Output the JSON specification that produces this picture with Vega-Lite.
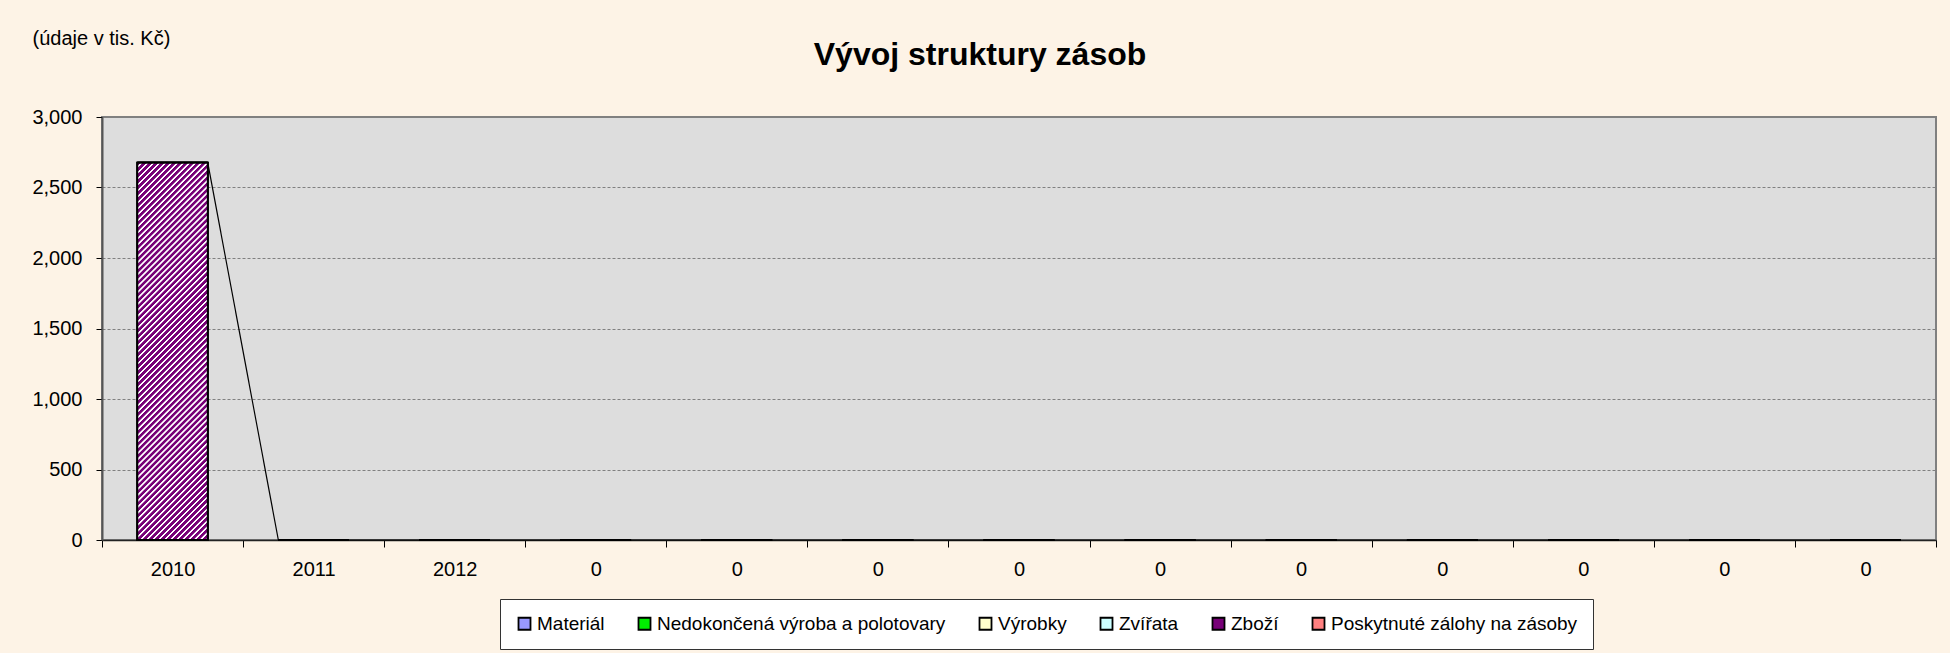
{
  "$schema": "https://vega.github.io/schema/vega-lite/v6.json",
  "width": 1834,
  "height": 423,
  "autosize": {"type": "none"},
  "padding": {"left": 102, "top": 117, "right": 14, "bottom": 113},
  "background": "#FDF3E6",
  "title": {
    "text": "Vývoj struktury zásob",
    "fontSize": 32,
    "fontWeight": "bold",
    "font": "Liberation Sans",
    "color": "black",
    "anchor": "middle",
    "baseline": "alphabetic",
    "dx": -39,
    "offset": -69
  },
  "config": {
    "font": "Liberation Sans",
    "view": {"fill": "#DDDDDD", "stroke": "#808080", "strokeWidth": 2}
  },
  "data": {
    "values": [
      {"rok": "2010", "polozka": "Materiál", "hodnota": 0},
      {"rok": "2010", "polozka": "Nedokončená výroba a polotovary", "hodnota": 0},
      {"rok": "2010", "polozka": "Výrobky", "hodnota": 0},
      {"rok": "2010", "polozka": "Zvířata", "hodnota": 0},
      {"rok": "2010", "polozka": "Zboží", "hodnota": 2675},
      {"rok": "2010", "polozka": "Poskytnuté zálohy na zásoby", "hodnota": 0},
      {"rok": "2011", "polozka": "Materiál", "hodnota": 0},
      {"rok": "2011", "polozka": "Nedokončená výroba a polotovary", "hodnota": 0},
      {"rok": "2011", "polozka": "Výrobky", "hodnota": 0},
      {"rok": "2011", "polozka": "Zvířata", "hodnota": 0},
      {"rok": "2011", "polozka": "Zboží", "hodnota": 0},
      {"rok": "2011", "polozka": "Poskytnuté zálohy na zásoby", "hodnota": 0},
      {"rok": "2012", "polozka": "Materiál", "hodnota": 0},
      {"rok": "2012", "polozka": "Nedokončená výroba a polotovary", "hodnota": 0},
      {"rok": "2012", "polozka": "Výrobky", "hodnota": 0},
      {"rok": "2012", "polozka": "Zvířata", "hodnota": 0},
      {"rok": "2012", "polozka": "Zboží", "hodnota": 0},
      {"rok": "2012", "polozka": "Poskytnuté zálohy na zásoby", "hodnota": 0},
      {"rok": "0#4", "polozka": "Materiál", "hodnota": 0},
      {"rok": "0#4", "polozka": "Nedokončená výroba a polotovary", "hodnota": 0},
      {"rok": "0#4", "polozka": "Výrobky", "hodnota": 0},
      {"rok": "0#4", "polozka": "Zvířata", "hodnota": 0},
      {"rok": "0#4", "polozka": "Zboží", "hodnota": 0},
      {"rok": "0#4", "polozka": "Poskytnuté zálohy na zásoby", "hodnota": 0},
      {"rok": "0#5", "polozka": "Materiál", "hodnota": 0},
      {"rok": "0#5", "polozka": "Nedokončená výroba a polotovary", "hodnota": 0},
      {"rok": "0#5", "polozka": "Výrobky", "hodnota": 0},
      {"rok": "0#5", "polozka": "Zvířata", "hodnota": 0},
      {"rok": "0#5", "polozka": "Zboží", "hodnota": 0},
      {"rok": "0#5", "polozka": "Poskytnuté zálohy na zásoby", "hodnota": 0},
      {"rok": "0#6", "polozka": "Materiál", "hodnota": 0},
      {"rok": "0#6", "polozka": "Nedokončená výroba a polotovary", "hodnota": 0},
      {"rok": "0#6", "polozka": "Výrobky", "hodnota": 0},
      {"rok": "0#6", "polozka": "Zvířata", "hodnota": 0},
      {"rok": "0#6", "polozka": "Zboží", "hodnota": 0},
      {"rok": "0#6", "polozka": "Poskytnuté zálohy na zásoby", "hodnota": 0},
      {"rok": "0#7", "polozka": "Materiál", "hodnota": 0},
      {"rok": "0#7", "polozka": "Nedokončená výroba a polotovary", "hodnota": 0},
      {"rok": "0#7", "polozka": "Výrobky", "hodnota": 0},
      {"rok": "0#7", "polozka": "Zvířata", "hodnota": 0},
      {"rok": "0#7", "polozka": "Zboží", "hodnota": 0},
      {"rok": "0#7", "polozka": "Poskytnuté zálohy na zásoby", "hodnota": 0},
      {"rok": "0#8", "polozka": "Materiál", "hodnota": 0},
      {"rok": "0#8", "polozka": "Nedokončená výroba a polotovary", "hodnota": 0},
      {"rok": "0#8", "polozka": "Výrobky", "hodnota": 0},
      {"rok": "0#8", "polozka": "Zvířata", "hodnota": 0},
      {"rok": "0#8", "polozka": "Zboží", "hodnota": 0},
      {"rok": "0#8", "polozka": "Poskytnuté zálohy na zásoby", "hodnota": 0},
      {"rok": "0#9", "polozka": "Materiál", "hodnota": 0},
      {"rok": "0#9", "polozka": "Nedokončená výroba a polotovary", "hodnota": 0},
      {"rok": "0#9", "polozka": "Výrobky", "hodnota": 0},
      {"rok": "0#9", "polozka": "Zvířata", "hodnota": 0},
      {"rok": "0#9", "polozka": "Zboží", "hodnota": 0},
      {"rok": "0#9", "polozka": "Poskytnuté zálohy na zásoby", "hodnota": 0},
      {"rok": "0#10", "polozka": "Materiál", "hodnota": 0},
      {"rok": "0#10", "polozka": "Nedokončená výroba a polotovary", "hodnota": 0},
      {"rok": "0#10", "polozka": "Výrobky", "hodnota": 0},
      {"rok": "0#10", "polozka": "Zvířata", "hodnota": 0},
      {"rok": "0#10", "polozka": "Zboží", "hodnota": 0},
      {"rok": "0#10", "polozka": "Poskytnuté zálohy na zásoby", "hodnota": 0},
      {"rok": "0#11", "polozka": "Materiál", "hodnota": 0},
      {"rok": "0#11", "polozka": "Nedokončená výroba a polotovary", "hodnota": 0},
      {"rok": "0#11", "polozka": "Výrobky", "hodnota": 0},
      {"rok": "0#11", "polozka": "Zvířata", "hodnota": 0},
      {"rok": "0#11", "polozka": "Zboží", "hodnota": 0},
      {"rok": "0#11", "polozka": "Poskytnuté zálohy na zásoby", "hodnota": 0},
      {"rok": "0#12", "polozka": "Materiál", "hodnota": 0},
      {"rok": "0#12", "polozka": "Nedokončená výroba a polotovary", "hodnota": 0},
      {"rok": "0#12", "polozka": "Výrobky", "hodnota": 0},
      {"rok": "0#12", "polozka": "Zvířata", "hodnota": 0},
      {"rok": "0#12", "polozka": "Zboží", "hodnota": 0},
      {"rok": "0#12", "polozka": "Poskytnuté zálohy na zásoby", "hodnota": 0},
      {"rok": "0#13", "polozka": "Materiál", "hodnota": 0},
      {"rok": "0#13", "polozka": "Nedokončená výroba a polotovary", "hodnota": 0},
      {"rok": "0#13", "polozka": "Výrobky", "hodnota": 0},
      {"rok": "0#13", "polozka": "Zvířata", "hodnota": 0},
      {"rok": "0#13", "polozka": "Zboží", "hodnota": 0},
      {"rok": "0#13", "polozka": "Poskytnuté zálohy na zásoby", "hodnota": 0}
    ]
  },
  "encoding": {
    "x": {
      "field": "rok",
      "type": "nominal",
      "sort": null,
      "scale": {
        "domain": ["2010", "2011", "2012", "0#4", "0#5", "0#6", "0#7", "0#8", "0#9", "0#10", "0#11", "0#12", "0#13"],
        "paddingInner": 0,
        "paddingOuter": 0
      },
      "axis": {
        "title": null,
        "labelExpr": "split(datum.label, '#')[0]",
        "labelAngle": 0,
        "labelFontSize": 20,
        "labelColor": "black",
        "labelPadding": 12,
        "tickBand": "extent",
        "tickSize": 7,
        "tickColor": "black",
        "domainColor": "#222222",
        "domainWidth": 1.5,
        "grid": false
      }
    }
  },
  "layer": [
    {
      "mark": {"type": "bar", "stroke": "black", "strokeWidth": 2, "width": {"band": 0.5}},
      "encoding": {
        "y": {
          "field": "hodnota",
          "type": "quantitative",
          "aggregate": "sum",
          "stack": "zero",
          "scale": {"domain": [0, 3000], "nice": false},
          "axis": {
            "title": "(údaje v tis. Kč)",
            "titleAngle": 0,
            "titleAlign": "left",
            "titleBaseline": "alphabetic",
            "titleX": -70,
            "titleY": -73,
            "titleFontSize": 20,
            "titleFontWeight": "normal",
            "titleColor": "black",
            "values": [0, 500, 1000, 1500, 2000, 2500, 3000],
            "format": ",d",
            "labelFontSize": 20,
            "labelColor": "black",
            "labelPadding": 14,
            "tickSize": 6,
            "tickColor": "black",
            "domainColor": "#555555",
            "domainWidth": 2,
            "grid": true,
            "gridColor": "#808080",
            "gridDash": [3, 2],
            "gridWidth": 1
          }
        },
        "color": {
          "field": "polozka",
          "type": "nominal",
          "scale": {
            "domain": ["Materiál", "Nedokončená výroba a polotovary", "Výrobky", "Zvířata", "Zboží", "Poskytnuté zálohy na zásoby"],
            "range": ["#9999FF", "#00EE00", "#FFFFCC", "#CCFFFF", "#770077", "#FF8080"]
          },
          "legend": {
            "title": null,
            "orient": "none",
            "legendX": 398,
            "legendY": 482,
            "direction": "horizontal",
            "fillColor": "white",
            "strokeColor": "#333333",
            "padding": 15,
            "symbolType": "square",
            "symbolSize": 144,
            "symbolStrokeColor": "black",
            "symbolStrokeWidth": 1.5,
            "symbolOpacity": 1,
            "labelFontSize": 19,
            "labelColor": "black",
            "labelOffset": 3,
            "labelLimit": 500,
            "columnPadding": 29,
            "encode": {
              "symbols": {
                "update": {
                  "stroke": {"value": "black"},
                  "strokeWidth": {"value": 1.8},
                  "fill": [
                    {
                      "test": "datum.value === 'Zboží'",
                      "value": {
                        "gradient": "linear",
                        "x1": 0, "y1": 0, "x2": 1, "y2": 1,
                        "stops": [
                          {"offset": 0, "color": "#770077"},
                          {"offset": 0.4, "color": "#770077"},
                          {"offset": 0.5, "color": "#F0D8F0"},
                          {"offset": 0.6, "color": "#770077"},
                          {"offset": 1, "color": "#770077"}
                        ]
                      }
                    },
                    {"scale": "color", "field": "value"}
                  ]
                }
              }
            }
          }
        }
      }
    },
    {
      "transform": [{"filter": "datum.polozka == 'Zboží' && datum.hodnota > 0"}],
      "mark": {
        "type": "bar",
        "stroke": "black",
        "strokeWidth": 2,
        "width": {"band": 0.5},
        "fill": {
          "gradient": "linear",
          "x1": 0, "y1": 0, "x2": 0.2145, "y2": 1.1468,
          "stops": [
            {"offset": 0.0000, "color": "#770077"}, {"offset": 0.0067, "color": "#770077"}, {"offset": 0.0083, "color": "white"}, {"offset": 0.0117, "color": "white"},
            {"offset": 0.0133, "color": "#770077"}, {"offset": 0.0200, "color": "#770077"}, {"offset": 0.0216, "color": "white"}, {"offset": 0.0251, "color": "white"},
            {"offset": 0.0267, "color": "#770077"}, {"offset": 0.0333, "color": "#770077"}, {"offset": 0.0349, "color": "white"}, {"offset": 0.0384, "color": "white"},
            {"offset": 0.0400, "color": "#770077"}, {"offset": 0.0467, "color": "#770077"}, {"offset": 0.0483, "color": "white"}, {"offset": 0.0517, "color": "white"},
            {"offset": 0.0533, "color": "#770077"}, {"offset": 0.0600, "color": "#770077"}, {"offset": 0.0616, "color": "white"}, {"offset": 0.0651, "color": "white"},
            {"offset": 0.0667, "color": "#770077"}, {"offset": 0.0733, "color": "#770077"}, {"offset": 0.0749, "color": "white"}, {"offset": 0.0784, "color": "white"},
            {"offset": 0.0800, "color": "#770077"}, {"offset": 0.0867, "color": "#770077"}, {"offset": 0.0883, "color": "white"}, {"offset": 0.0917, "color": "white"},
            {"offset": 0.0933, "color": "#770077"}, {"offset": 0.1000, "color": "#770077"}, {"offset": 0.1016, "color": "white"}, {"offset": 0.1051, "color": "white"},
            {"offset": 0.1067, "color": "#770077"}, {"offset": 0.1133, "color": "#770077"}, {"offset": 0.1149, "color": "white"}, {"offset": 0.1184, "color": "white"},
            {"offset": 0.1200, "color": "#770077"}, {"offset": 0.1267, "color": "#770077"}, {"offset": 0.1283, "color": "white"}, {"offset": 0.1317, "color": "white"},
            {"offset": 0.1333, "color": "#770077"}, {"offset": 0.1400, "color": "#770077"}, {"offset": 0.1416, "color": "white"}, {"offset": 0.1451, "color": "white"},
            {"offset": 0.1467, "color": "#770077"}, {"offset": 0.1533, "color": "#770077"}, {"offset": 0.1549, "color": "white"}, {"offset": 0.1584, "color": "white"},
            {"offset": 0.1600, "color": "#770077"}, {"offset": 0.1667, "color": "#770077"}, {"offset": 0.1683, "color": "white"}, {"offset": 0.1717, "color": "white"},
            {"offset": 0.1733, "color": "#770077"}, {"offset": 0.1800, "color": "#770077"}, {"offset": 0.1816, "color": "white"}, {"offset": 0.1851, "color": "white"},
            {"offset": 0.1867, "color": "#770077"}, {"offset": 0.1933, "color": "#770077"}, {"offset": 0.1949, "color": "white"}, {"offset": 0.1984, "color": "white"},
            {"offset": 0.2000, "color": "#770077"}, {"offset": 0.2067, "color": "#770077"}, {"offset": 0.2083, "color": "white"}, {"offset": 0.2117, "color": "white"},
            {"offset": 0.2133, "color": "#770077"}, {"offset": 0.2200, "color": "#770077"}, {"offset": 0.2216, "color": "white"}, {"offset": 0.2251, "color": "white"},
            {"offset": 0.2267, "color": "#770077"}, {"offset": 0.2333, "color": "#770077"}, {"offset": 0.2349, "color": "white"}, {"offset": 0.2384, "color": "white"},
            {"offset": 0.2400, "color": "#770077"}, {"offset": 0.2467, "color": "#770077"}, {"offset": 0.2483, "color": "white"}, {"offset": 0.2517, "color": "white"},
            {"offset": 0.2533, "color": "#770077"}, {"offset": 0.2600, "color": "#770077"}, {"offset": 0.2616, "color": "white"}, {"offset": 0.2651, "color": "white"},
            {"offset": 0.2667, "color": "#770077"}, {"offset": 0.2733, "color": "#770077"}, {"offset": 0.2749, "color": "white"}, {"offset": 0.2784, "color": "white"},
            {"offset": 0.2800, "color": "#770077"}, {"offset": 0.2867, "color": "#770077"}, {"offset": 0.2883, "color": "white"}, {"offset": 0.2917, "color": "white"},
            {"offset": 0.2933, "color": "#770077"}, {"offset": 0.3000, "color": "#770077"}, {"offset": 0.3016, "color": "white"}, {"offset": 0.3051, "color": "white"},
            {"offset": 0.3067, "color": "#770077"}, {"offset": 0.3133, "color": "#770077"}, {"offset": 0.3149, "color": "white"}, {"offset": 0.3184, "color": "white"},
            {"offset": 0.3200, "color": "#770077"}, {"offset": 0.3267, "color": "#770077"}, {"offset": 0.3283, "color": "white"}, {"offset": 0.3317, "color": "white"},
            {"offset": 0.3333, "color": "#770077"}, {"offset": 0.3400, "color": "#770077"}, {"offset": 0.3416, "color": "white"}, {"offset": 0.3451, "color": "white"},
            {"offset": 0.3467, "color": "#770077"}, {"offset": 0.3533, "color": "#770077"}, {"offset": 0.3549, "color": "white"}, {"offset": 0.3584, "color": "white"},
            {"offset": 0.3600, "color": "#770077"}, {"offset": 0.3667, "color": "#770077"}, {"offset": 0.3683, "color": "white"}, {"offset": 0.3717, "color": "white"},
            {"offset": 0.3733, "color": "#770077"}, {"offset": 0.3800, "color": "#770077"}, {"offset": 0.3816, "color": "white"}, {"offset": 0.3851, "color": "white"},
            {"offset": 0.3867, "color": "#770077"}, {"offset": 0.3933, "color": "#770077"}, {"offset": 0.3949, "color": "white"}, {"offset": 0.3984, "color": "white"},
            {"offset": 0.4000, "color": "#770077"}, {"offset": 0.4067, "color": "#770077"}, {"offset": 0.4083, "color": "white"}, {"offset": 0.4117, "color": "white"},
            {"offset": 0.4133, "color": "#770077"}, {"offset": 0.4200, "color": "#770077"}, {"offset": 0.4216, "color": "white"}, {"offset": 0.4251, "color": "white"},
            {"offset": 0.4267, "color": "#770077"}, {"offset": 0.4333, "color": "#770077"}, {"offset": 0.4349, "color": "white"}, {"offset": 0.4384, "color": "white"},
            {"offset": 0.4400, "color": "#770077"}, {"offset": 0.4467, "color": "#770077"}, {"offset": 0.4483, "color": "white"}, {"offset": 0.4517, "color": "white"},
            {"offset": 0.4533, "color": "#770077"}, {"offset": 0.4600, "color": "#770077"}, {"offset": 0.4616, "color": "white"}, {"offset": 0.4651, "color": "white"},
            {"offset": 0.4667, "color": "#770077"}, {"offset": 0.4733, "color": "#770077"}, {"offset": 0.4749, "color": "white"}, {"offset": 0.4784, "color": "white"},
            {"offset": 0.4800, "color": "#770077"}, {"offset": 0.4867, "color": "#770077"}, {"offset": 0.4883, "color": "white"}, {"offset": 0.4917, "color": "white"},
            {"offset": 0.4933, "color": "#770077"}, {"offset": 0.5000, "color": "#770077"}, {"offset": 0.5016, "color": "white"}, {"offset": 0.5051, "color": "white"},
            {"offset": 0.5067, "color": "#770077"}, {"offset": 0.5133, "color": "#770077"}, {"offset": 0.5149, "color": "white"}, {"offset": 0.5184, "color": "white"},
            {"offset": 0.5200, "color": "#770077"}, {"offset": 0.5267, "color": "#770077"}, {"offset": 0.5283, "color": "white"}, {"offset": 0.5317, "color": "white"},
            {"offset": 0.5333, "color": "#770077"}, {"offset": 0.5400, "color": "#770077"}, {"offset": 0.5416, "color": "white"}, {"offset": 0.5451, "color": "white"},
            {"offset": 0.5467, "color": "#770077"}, {"offset": 0.5533, "color": "#770077"}, {"offset": 0.5549, "color": "white"}, {"offset": 0.5584, "color": "white"},
            {"offset": 0.5600, "color": "#770077"}, {"offset": 0.5667, "color": "#770077"}, {"offset": 0.5683, "color": "white"}, {"offset": 0.5717, "color": "white"},
            {"offset": 0.5733, "color": "#770077"}, {"offset": 0.5800, "color": "#770077"}, {"offset": 0.5816, "color": "white"}, {"offset": 0.5851, "color": "white"},
            {"offset": 0.5867, "color": "#770077"}, {"offset": 0.5933, "color": "#770077"}, {"offset": 0.5949, "color": "white"}, {"offset": 0.5984, "color": "white"},
            {"offset": 0.6000, "color": "#770077"}, {"offset": 0.6067, "color": "#770077"}, {"offset": 0.6083, "color": "white"}, {"offset": 0.6117, "color": "white"},
            {"offset": 0.6133, "color": "#770077"}, {"offset": 0.6200, "color": "#770077"}, {"offset": 0.6216, "color": "white"}, {"offset": 0.6251, "color": "white"},
            {"offset": 0.6267, "color": "#770077"}, {"offset": 0.6333, "color": "#770077"}, {"offset": 0.6349, "color": "white"}, {"offset": 0.6384, "color": "white"},
            {"offset": 0.6400, "color": "#770077"}, {"offset": 0.6467, "color": "#770077"}, {"offset": 0.6483, "color": "white"}, {"offset": 0.6517, "color": "white"},
            {"offset": 0.6533, "color": "#770077"}, {"offset": 0.6600, "color": "#770077"}, {"offset": 0.6616, "color": "white"}, {"offset": 0.6651, "color": "white"},
            {"offset": 0.6667, "color": "#770077"}, {"offset": 0.6733, "color": "#770077"}, {"offset": 0.6749, "color": "white"}, {"offset": 0.6784, "color": "white"},
            {"offset": 0.6800, "color": "#770077"}, {"offset": 0.6867, "color": "#770077"}, {"offset": 0.6883, "color": "white"}, {"offset": 0.6917, "color": "white"},
            {"offset": 0.6933, "color": "#770077"}, {"offset": 0.7000, "color": "#770077"}, {"offset": 0.7016, "color": "white"}, {"offset": 0.7051, "color": "white"},
            {"offset": 0.7067, "color": "#770077"}, {"offset": 0.7133, "color": "#770077"}, {"offset": 0.7149, "color": "white"}, {"offset": 0.7184, "color": "white"},
            {"offset": 0.7200, "color": "#770077"}, {"offset": 0.7267, "color": "#770077"}, {"offset": 0.7283, "color": "white"}, {"offset": 0.7317, "color": "white"},
            {"offset": 0.7333, "color": "#770077"}, {"offset": 0.7400, "color": "#770077"}, {"offset": 0.7416, "color": "white"}, {"offset": 0.7451, "color": "white"},
            {"offset": 0.7467, "color": "#770077"}, {"offset": 0.7533, "color": "#770077"}, {"offset": 0.7549, "color": "white"}, {"offset": 0.7584, "color": "white"},
            {"offset": 0.7600, "color": "#770077"}, {"offset": 0.7667, "color": "#770077"}, {"offset": 0.7683, "color": "white"}, {"offset": 0.7717, "color": "white"},
            {"offset": 0.7733, "color": "#770077"}, {"offset": 0.7800, "color": "#770077"}, {"offset": 0.7816, "color": "white"}, {"offset": 0.7851, "color": "white"},
            {"offset": 0.7867, "color": "#770077"}, {"offset": 0.7933, "color": "#770077"}, {"offset": 0.7949, "color": "white"}, {"offset": 0.7984, "color": "white"},
            {"offset": 0.8000, "color": "#770077"}, {"offset": 0.8067, "color": "#770077"}, {"offset": 0.8083, "color": "white"}, {"offset": 0.8117, "color": "white"},
            {"offset": 0.8133, "color": "#770077"}, {"offset": 0.8200, "color": "#770077"}, {"offset": 0.8216, "color": "white"}, {"offset": 0.8251, "color": "white"},
            {"offset": 0.8267, "color": "#770077"}, {"offset": 0.8333, "color": "#770077"}, {"offset": 0.8349, "color": "white"}, {"offset": 0.8384, "color": "white"},
            {"offset": 0.8400, "color": "#770077"}, {"offset": 0.8467, "color": "#770077"}, {"offset": 0.8483, "color": "white"}, {"offset": 0.8517, "color": "white"},
            {"offset": 0.8533, "color": "#770077"}, {"offset": 0.8600, "color": "#770077"}, {"offset": 0.8616, "color": "white"}, {"offset": 0.8651, "color": "white"},
            {"offset": 0.8667, "color": "#770077"}, {"offset": 0.8733, "color": "#770077"}, {"offset": 0.8749, "color": "white"}, {"offset": 0.8784, "color": "white"},
            {"offset": 0.8800, "color": "#770077"}, {"offset": 0.8867, "color": "#770077"}, {"offset": 0.8883, "color": "white"}, {"offset": 0.8917, "color": "white"},
            {"offset": 0.8933, "color": "#770077"}, {"offset": 0.9000, "color": "#770077"}, {"offset": 0.9016, "color": "white"}, {"offset": 0.9051, "color": "white"},
            {"offset": 0.9067, "color": "#770077"}, {"offset": 0.9133, "color": "#770077"}, {"offset": 0.9149, "color": "white"}, {"offset": 0.9184, "color": "white"},
            {"offset": 0.9200, "color": "#770077"}, {"offset": 0.9267, "color": "#770077"}, {"offset": 0.9283, "color": "white"}, {"offset": 0.9317, "color": "white"},
            {"offset": 0.9333, "color": "#770077"}, {"offset": 0.9400, "color": "#770077"}, {"offset": 0.9416, "color": "white"}, {"offset": 0.9451, "color": "white"},
            {"offset": 0.9467, "color": "#770077"}, {"offset": 0.9533, "color": "#770077"}, {"offset": 0.9549, "color": "white"}, {"offset": 0.9584, "color": "white"},
            {"offset": 0.9600, "color": "#770077"}, {"offset": 0.9667, "color": "#770077"}, {"offset": 0.9683, "color": "white"}, {"offset": 0.9717, "color": "white"},
            {"offset": 0.9733, "color": "#770077"}, {"offset": 0.9800, "color": "#770077"}, {"offset": 0.9816, "color": "white"}, {"offset": 0.9851, "color": "white"},
            {"offset": 0.9867, "color": "#770077"}, {"offset": 0.9933, "color": "#770077"}, {"offset": 0.9949, "color": "white"}, {"offset": 0.9984, "color": "white"},
            {"offset": 1.0, "color": "#770077"}
          ]
        }
      },
      "encoding": {
        "y": {"field": "hodnota", "type": "quantitative", "stack": null}
      }
    },
    {
      "transform": [
        {"filter": "datum.polozka == 'Zboží'"},
        {"window": [
          {"op": "lead", "field": "rok", "as": "dalsi"},
          {"op": "lead", "field": "hodnota", "as": "dalsiH"}
        ]},
        {"filter": "datum.dalsi != null"}
      ],
      "mark": {
        "type": "rule",
        "color": "black",
        "strokeWidth": 1.2,
        "xOffset": {"expr": "bandwidth('x') / 4"},
        "x2Offset": {"expr": "-bandwidth('x') / 4"}
      },
      "encoding": {
        "x2": {"field": "dalsi"},
        "y": {"field": "hodnota", "type": "quantitative"},
        "y2": {"field": "dalsiH"}
      }
    }
  ]
}
